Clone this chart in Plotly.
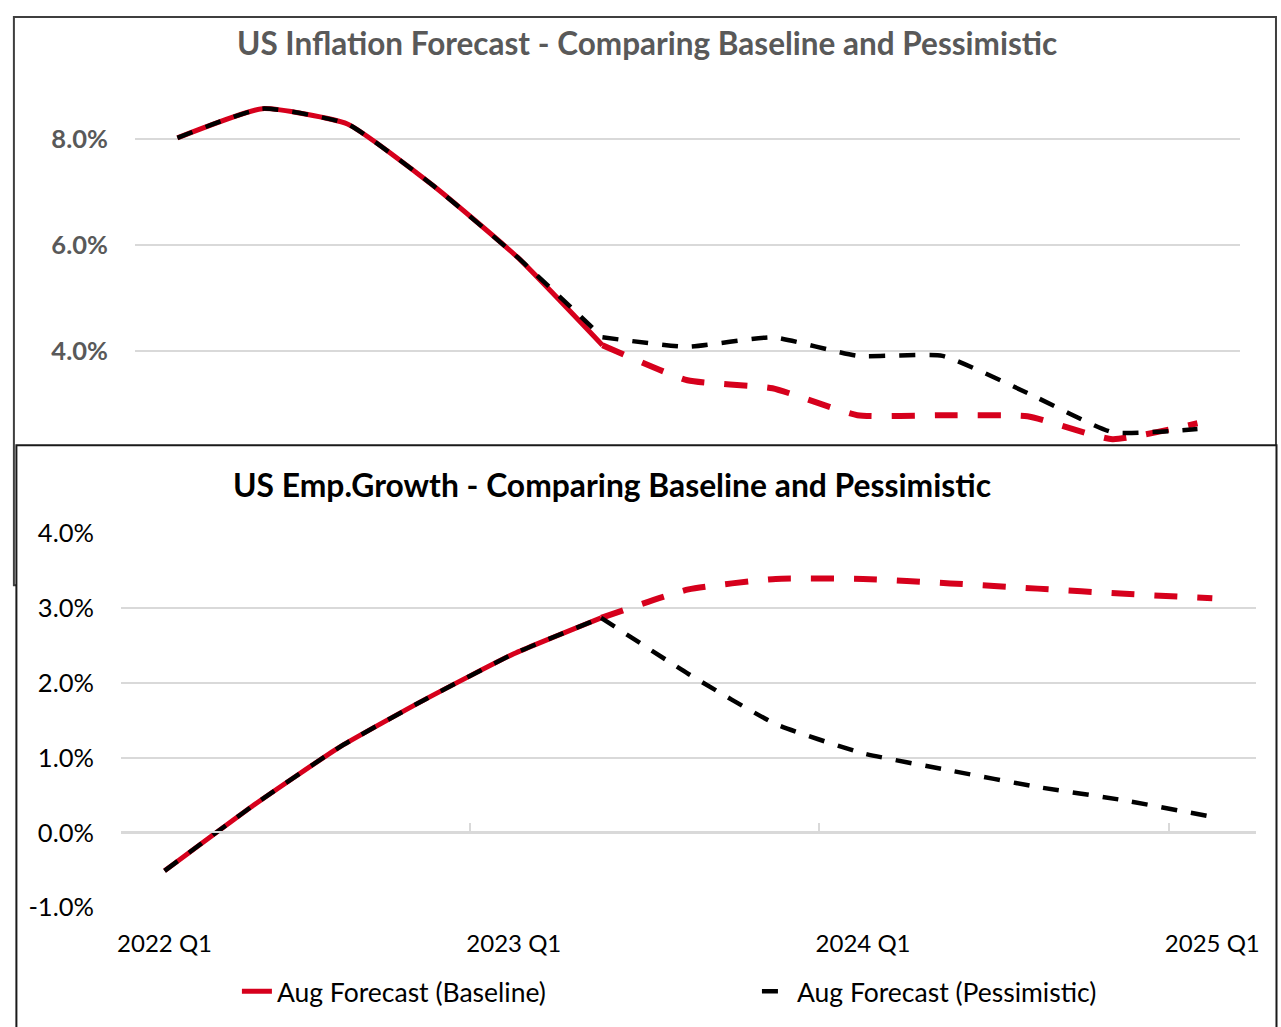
import plotly.graph_objects as go

W, H = 1281, 1027

quarters = ["2022 Q1", "2022 Q2", "2022 Q3", "2022 Q4", "2023 Q1", "2023 Q2", "2023 Q3",
            "2023 Q4", "2024 Q1", "2024 Q2", "2024 Q3", "2024 Q4", "2025 Q1"]
hist_end = 6  # actual data through 2023 Q2, forecasts afterwards

infl_baseline = [8.02, 8.57, 8.28, 7.13, 5.77, 4.11, 3.45, 3.30, 2.79, 2.79, 2.77, 2.34, 2.64]
infl_pessimistic = [8.02, 8.57, 8.28, 7.13, 5.77, 4.26, 4.08, 4.26, 3.91, 3.91, 3.21, 2.47, 2.53]
emp_baseline = [-0.51, 0.35, 1.14, 1.79, 2.39, 2.87, 3.25, 3.39, 3.39, 3.33, 3.26, 3.19, 3.13]
emp_pessimistic = [-0.51, 0.35, 1.14, 1.79, 2.39, 2.87, 2.12, 1.45, 1.06, 0.83, 0.61, 0.43, 0.21]

infl_ticks = [4, 6, 8]
infl_labels = ["4.0%", "6.0%", "8.0%"]
emp_ticks = [-1, 0, 1, 2, 3, 4]
emp_labels = ["-1.0%", "0.0%", "1.0%", "2.0%", "3.0%", "4.0%"]
x_label_ticks = ["2022 Q1", "2023 Q1", "2024 Q1", "2025 Q1"]

title_top = "US Inflation Forecast - Comparing Baseline and Pessimistic"
title_bottom = "US Emp.Growth - Comparing Baseline and Pessimistic"
name_base = "Aug Forecast (Baseline)"
name_pess = "Aug Forecast (Pessimistic)"

RED = "#D6001C"
BLACK = "#000000"
GRID = "#D9D9D9"
FONT = "Lato, 'Open Sans', sans-serif"
SMOOTH = 0.45

# the captured picture is inset slightly; positions below are given in target-image pixels
AX, BX = 4.1, 0.9937
AY, BY = 16.2, 0.970


def px(x):
    return min(max((x - AX) / BX / W, 0.0), 1.0)


def py(y):
    return min(max(1 - (y - AY) / BY / H, -0.1), 1.0)


fig = go.Figure()


def add_chart(xa, ya, base, pess, legend_flag):
    # baseline: solid for history, dashed for forecast
    fig.add_trace(go.Scatter(
        x=quarters[:hist_end], y=base[:hist_end], mode="lines", name=name_base,
        line=dict(color=RED, width=5, shape="spline", smoothing=SMOOTH),
        xaxis=xa, yaxis=ya, showlegend=legend_flag, legend="legend", hoverinfo="skip"))
    fig.add_trace(go.Scatter(
        x=quarters[hist_end - 1:], y=base[hist_end - 1:], mode="lines", name=name_base,
        line=dict(color=RED, width=6, dash="23px,20px", shape="spline", smoothing=SMOOTH),
        xaxis=xa, yaxis=ya, showlegend=False, hoverinfo="skip"))
    # pessimistic: dashed black throughout (history part follows the baseline history)
    fig.add_trace(go.Scatter(
        x=quarters[:hist_end], y=pess[:hist_end], mode="lines", name=name_pess,
        line=dict(color=BLACK, width=4.5, dash="16px,14px", shape="spline", smoothing=SMOOTH),
        xaxis=xa, yaxis=ya, showlegend=False, legendgroup="pess", hoverinfo="skip"))
    fig.add_trace(go.Scatter(
        x=quarters[hist_end - 1:], y=pess[hist_end - 1:], mode="lines", name=name_pess,
        line=dict(color=BLACK, width=4.5, dash="16px,14px", shape="spline", smoothing=SMOOTH),
        xaxis=xa, yaxis=ya, showlegend=legend_flag, legend="legend2", legendgroup="pess",
        hoverinfo="skip"))


add_chart("x", "y", infl_baseline, infl_pessimistic, False)
add_chart("x2", "y2", emp_baseline, emp_pessimistic, True)

# top chart geometry (8% at y=139, 2 pts per 106 px)
top_y0, top_y1 = 88, 445


def infl_at(ypx):
    return 8 - (ypx - 139) / 53.0


shapes = [
    dict(type="rect", xref="paper", yref="paper", x0=px(14), x1=0.9992, y0=py(6) - 0.001, y1=py(585),
         line=dict(color="#3F3F3F", width=2), fillcolor="white", layer="below"),
    dict(type="rect", xref="paper", yref="paper", x0=px(16.5), x1=0.9996, y0=py(445), y1=py(1060),
         line=dict(color="#1A1A1A", width=2), fillcolor="white", layer="below"),
]

fig.update_layout(
    autosize=True,
    margin=dict(l=0, r=0, t=0, b=0),
    paper_bgcolor="white", plot_bgcolor="rgba(0,0,0,0)",
    font=dict(family=FONT, size=24, color="#000000"),
    shapes=shapes,
    xaxis=dict(domain=[px(135), px(1240)], anchor="y", type="category",
               categoryorder="array", categoryarray=quarters, range=[-0.5, 12.5],
               showgrid=False, showline=False, showticklabels=False, ticks="", zeroline=False),
    yaxis=dict(domain=[py(top_y1), py(top_y0)], anchor="x",
               range=[infl_at(top_y1), infl_at(top_y0)],
               tickvals=infl_ticks, ticktext=infl_labels,
               showgrid=True, gridcolor=GRID, gridwidth=1.5, zeroline=False, showline=False,
               ticks="", ticklabelstandoff=26,
               tickfont=dict(family=FONT, size=25.5, color="#595959", weight="bold")),
    xaxis2=dict(domain=[px(121), px(1256)], anchor="y2", type="category",
                categoryorder="array", categoryarray=quarters, range=[-0.5, 12.5],
                tickvals=x_label_ticks, ticktext=x_label_ticks,
                showgrid=False, showline=False, zeroline=False, ticks="",
                ticklabelstandoff=19, tickfont=dict(family=FONT, size=24, color="#000000")),
    yaxis2=dict(domain=[py(907), py(533)], anchor="x2", range=[-1, 4],
                tickvals=emp_ticks, ticktext=emp_labels,
                showgrid=True, gridcolor=GRID, gridwidth=1.5, zeroline=False, showline=False,
                ticks="", ticklabelstandoff=26,
                tickfont=dict(family=FONT, size=25.5, color="#000000")),
    xaxis3=dict(overlaying="x2", anchor="free", position=py(832), type="category",
                categoryorder="array", categoryarray=quarters, range=[-0.5, 12.5],
                tickvals=x_label_ticks, tickson="boundaries", ticks="inside", ticklen=9,
                tickcolor=GRID, tickwidth=1.5, showline=True, linecolor=GRID, linewidth=1.5,
                showticklabels=False, showgrid=False, zeroline=False),
    legend=dict(orientation="h", x=px(237), xanchor="left", y=py(991), yanchor="middle",
                bgcolor="rgba(0,0,0,0)", font=dict(family=FONT, size=26.5, color="#000000")),
    legend2=dict(orientation="h", x=px(757), xanchor="left", y=py(991), yanchor="middle",
                 bgcolor="rgba(0,0,0,0)", font=dict(family=FONT, size=26.5, color="#000000")),
    annotations=[
        dict(text=title_top, xref="paper", yref="paper", x=px(647), y=py(43),
             xanchor="center", yanchor="middle", showarrow=False,
             font=dict(family=FONT, size=31.5, color="#595959", weight="bold")),
        dict(text=title_bottom, xref="paper", yref="paper", x=px(612), y=py(485),
             xanchor="center", yanchor="middle", showarrow=False,
             font=dict(family=FONT, size=31.8, color="#000000", weight="bold")),
    ],
)

# invisible carrier so the tick-mark axis at the 0% line is rendered
fig.add_trace(go.Scatter(x=quarters, y=[None] * len(quarters), xaxis="x3", yaxis="y2",
                         mode="lines", showlegend=False, hoverinfo="skip"))

post = (
    "var s=document.createElement('style');"
    "s.textContent='html,body{margin:0;padding:0;overflow:hidden;width:100%;height:100%;}';"
    "document.head.appendChild(s);"
    "var gd=document.getElementById('{plot_id}');"
    "Plotly.Plots.resize(gd);"
)

fig.write_html(
    "out.html",
    default_width="100vw",
    default_height="100vh",
    config={"displayModeBar": False, "responsive": True},
    post_script=post,
)
